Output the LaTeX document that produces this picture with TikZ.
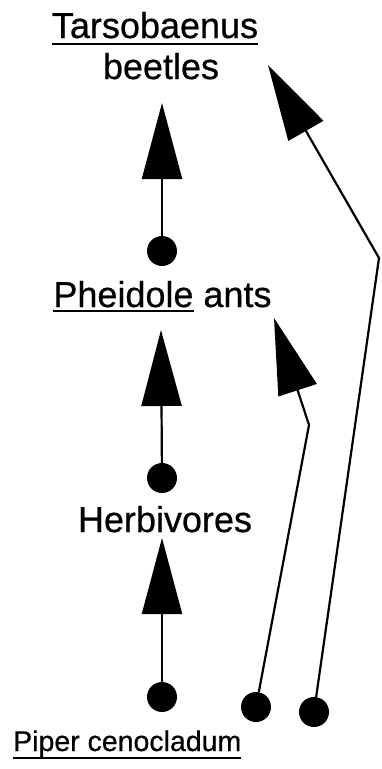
\documentclass[tikz,border=0pt]{standalone}
\usepackage{fontspec}
\setmainfont{Liberation Sans}[BoldFont={Liberation Sans},BoldFeatures={FakeBold=0.6}]
\usetikzlibrary{arrows.meta}
\newcommand\myul[2]{\setbox0\hbox{#1}\rlap{\rule[-#2]{\wd0}{2pt}}\box0\relax}
\begin{document}
\begin{tikzpicture}[x=1pt,y=-1pt,
  dot/.style={circle,fill=black,inner sep=0pt,minimum size=30pt},
  lbl/.style={inner sep=0pt,anchor=base,font=\fontsize{36}{41}\selectfont\bfseries},
  lblsmall/.style={inner sep=0pt,anchor=base west,font=\fontsize{28.5}{34}\selectfont\bfseries},
  arr/.style={line width=2.2pt,-{Triangle[length=76pt,width=40pt]}}]
\useasboundingbox (0,0) rectangle (381,769);
% labels
\node[lbl] (tars) at (155,38) {\myul{Tarsobaenus}{7pt}};
\node[lbl] (beet) at (161,79) {beetles};
\node[lbl] (pheid) at (162.5,307) {\myul{Pheidole}{5pt} ants};
\node[lbl] (herb) at (165,532) {Herbivores};
\node[lblsmall] (piper) at (13,751) {\myul{Piper cenocladum}{8pt}};
% dots
\node[dot] (d1) at (162,251) {};
\node[dot] (d2) at (162,478) {};
\node[dot] (d3) at (162,697) {};
\node[dot] (d4) at (256,707) {};
\node[dot] (d5) at (314,712) {};
% tips and bends
\coordinate (t1) at (162,103);
\coordinate (t2) at (161,330);
\coordinate (t3) at (162,538);
\coordinate (k4) at (309,425);
\coordinate (t4) at (274,318);
\coordinate (k5) at (379,258);
\coordinate (t5) at (268,65);
% connectors
\draw[arr] (d1) -- (t1);
\draw[arr] (d2) -- (t2);
\draw[arr] (d3) -- (t3);
\draw[arr] (d4) -- (k4) -- (t4);
\draw[arr] (d5) -- (k5) -- (t5);
\end{tikzpicture}
\end{document}
